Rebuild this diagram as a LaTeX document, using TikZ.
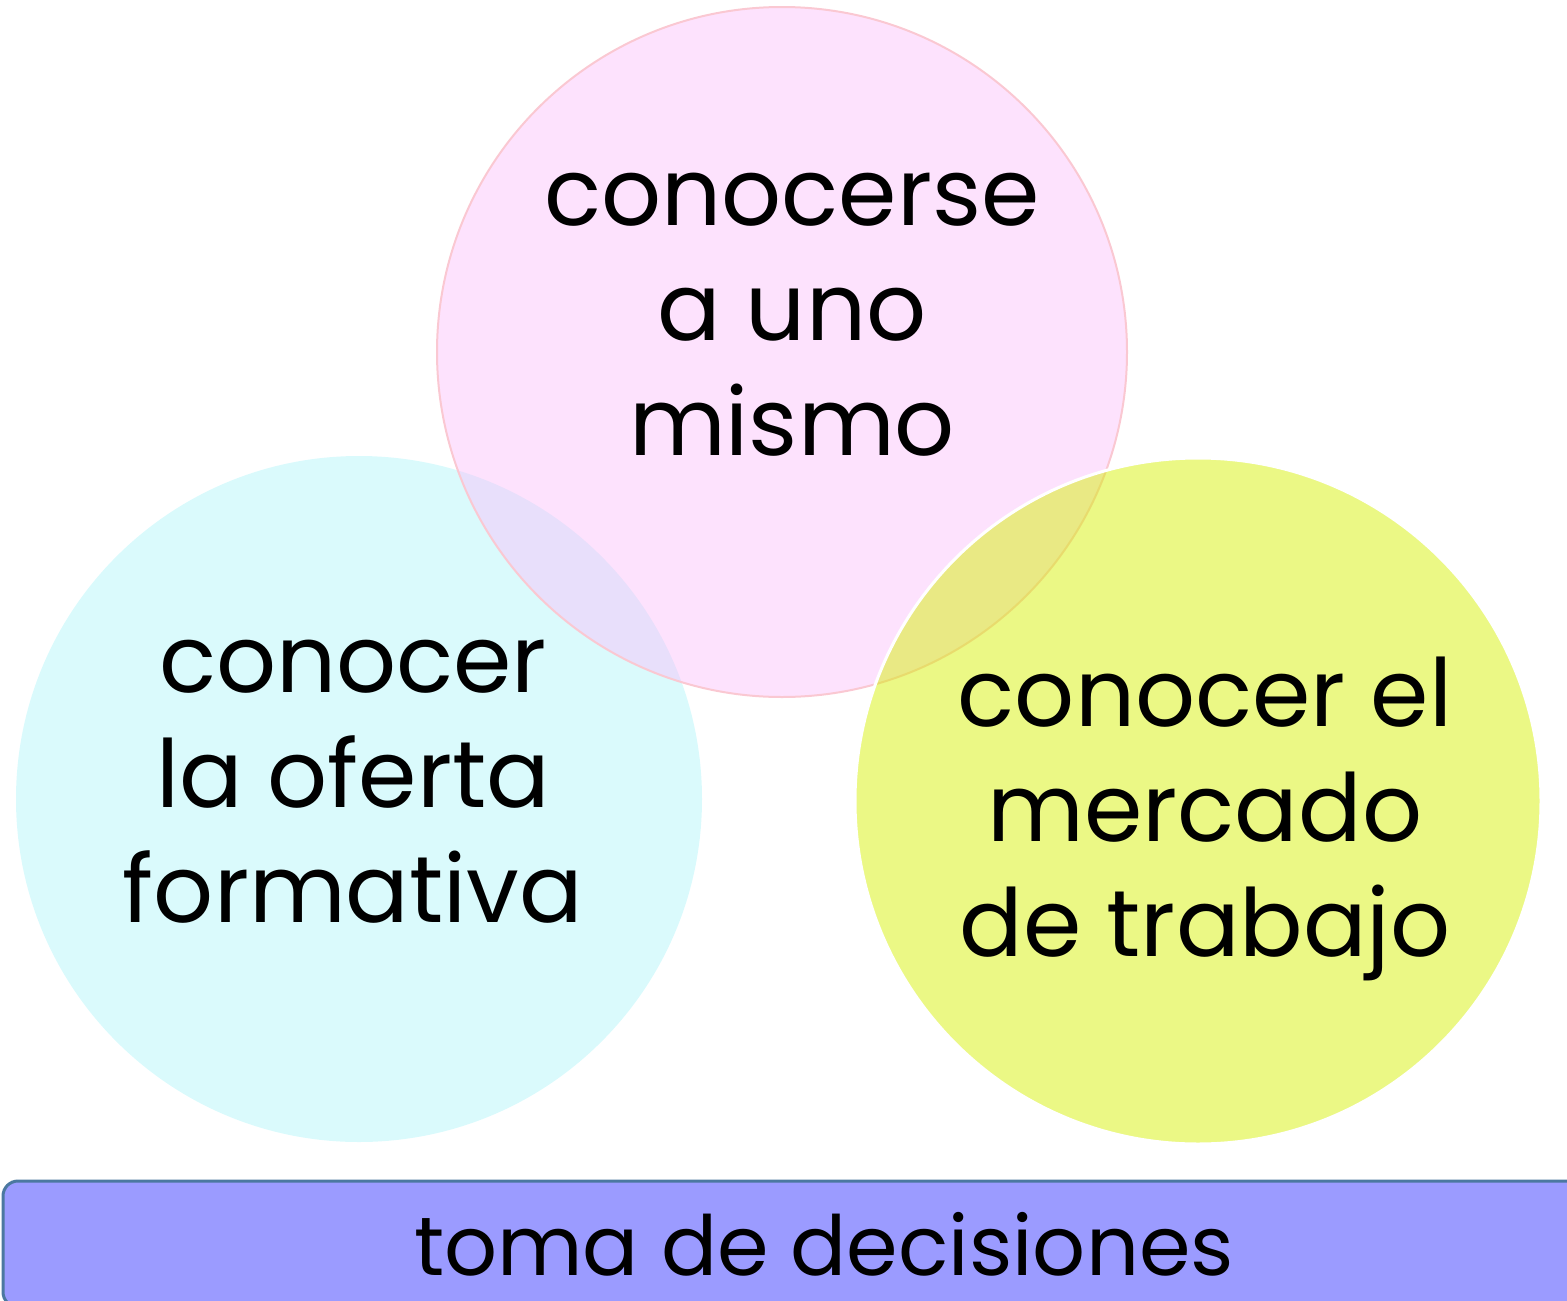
\documentclass[tikz,border=0pt]{standalone}
\usepackage{fontspec}
\setmainfont{Poppins}
\usetikzlibrary{positioning}
\definecolor{cgcyan}{RGB}{218,250,252}
\definecolor{cgpink}{RGB}{250,192,250}
\definecolor{cgpinkline}{RGB}{250,200,210}
\definecolor{cgyellow}{RGB}{213,240,0}
\definecolor{cgviolet}{RGB}{155,155,255}
\definecolor{cgvioletline}{RGB}{75,120,160}
\tikzstyle{bubble} = [circle, inner sep=0pt, minimum size=686pt]
\tikzstyle{bubbletext} = [align=center, font=\fontsize{94}{115}\selectfont, text=black]
\tikzstyle{decisionbar} = [rectangle, rounded corners=15pt, minimum width=1642pt, minimum height=126pt, draw=cgvioletline, line width=3pt, fill=cgviolet, font=\fontsize{83}{100}\selectfont]

\begin{document}
\begin{tikzpicture}[x=1pt,y=-1pt]
\useasboundingbox (0,0) rectangle (1567,1301);
\node[bubble, fill=cgcyan] (oferta) at (359,799) {};
\node[bubble, minimum size=690pt, draw=cgpinkline, line width=2pt, fill=cgpink, fill opacity=0.46] (uno) at (782,352) {};
\node[bubble, draw=white, line width=3pt, fill=cgyellow, fill opacity=0.48] (mercado) at (1198,801) {};

\node[bubbletext] (unotext) at (792,315) {conocerse\\a uno\\mismo};
\node[bubbletext] (ofertatext) at (353,782) {conocer\\la oferta\\formativa};
\node[bubbletext] (mercadotext) at (1205,819) {conocer el\\mercado\\de trabajo};

\node[decisionbar] (toma) at (824,1244) {toma de decisiones};
\end{tikzpicture}
\end{document}
